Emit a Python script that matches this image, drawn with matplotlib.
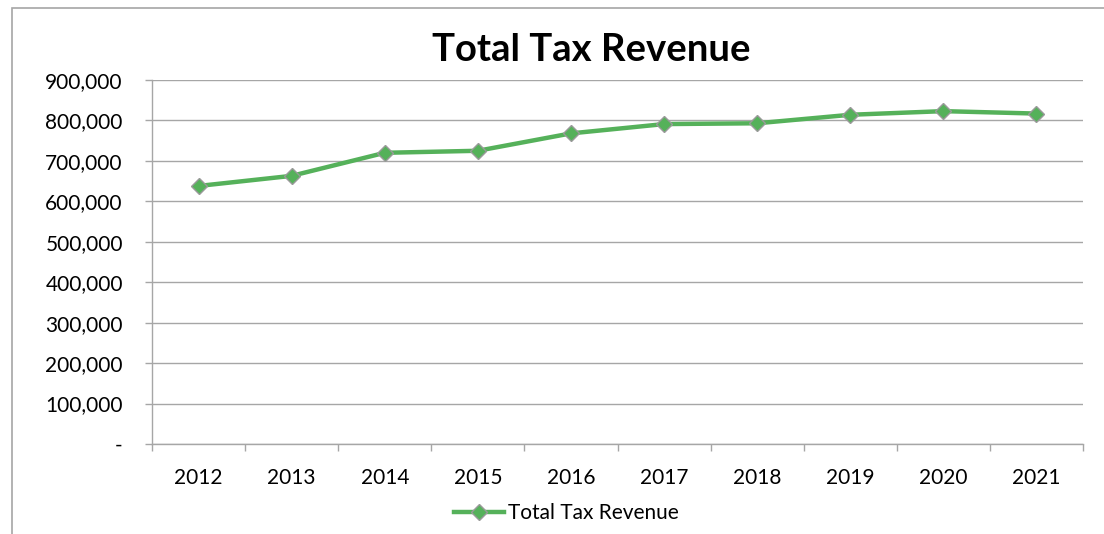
import matplotlib.pyplot as plt
from matplotlib.patches import Rectangle
from matplotlib.ticker import FuncFormatter, FixedLocator

# data
years = ['2012', '2013', '2014', '2015', '2016', '2017', '2018', '2019', '2020', '2021']
revenue = [638000, 663000, 720000, 725000, 768000, 791000, 793000, 814000, 823000, 817000]
y_ticks = [0, 100000, 200000, 300000, 400000, 500000, 600000, 700000, 800000, 900000]

plt.rcParams['font.family'] = ['Lato', 'DejaVu Sans']
green = '#55B15A'
grid_gray = '#A6A6A6'

fig = plt.figure(figsize=(11.04, 5.34), dpi=100)
ax = fig.add_axes([152/1104, 1-444/534, (1083-152)/1104, (444-80)/534])

x = list(range(len(years)))
ax.plot(x, revenue, color=green, lw=3.2, marker='D', markersize=8.5,
        markerfacecolor=green, markeredgecolor='#9A9A9A', markeredgewidth=1,
        label='Total Tax Revenue', zorder=3)

ax.set_xlim(-0.5, len(years) - 0.5)
ax.set_ylim(0, 900000)

# y axis
ax.set_yticks(y_ticks)
ax.yaxis.set_major_formatter(FuncFormatter(lambda v, p: '-' if v == 0 else f'{v:,.0f}'))
ax.tick_params(axis='y', length=5, width=1, color=grid_gray, pad=16, labelsize=15, labelcolor='black')
ax.grid(axis='y', color=grid_gray, lw=1)
ax.set_axisbelow(True)

# x axis: ticks between categories, labels at centres
ax.xaxis.set_major_locator(FixedLocator([i - 0.5 for i in range(len(years) + 1)]))
ax.xaxis.set_minor_locator(FixedLocator(x))
ax.set_xticklabels([], minor=False)
ax.set_xticklabels(years, minor=True)
ax.tick_params(axis='x', which='major', length=5, width=1, color=grid_gray)
ax.tick_params(axis='x', which='minor', length=0, pad=17, labelsize=15, labelcolor='black')

for s in ['top', 'right']:
    ax.spines[s].set_visible(False)
for s in ['left', 'bottom']:
    ax.spines[s].set_color(grid_gray)
    ax.spines[s].set_linewidth(1)

fig.text(591/1104, 1-50/534, 'Total Tax Revenue', ha='center', va='center',
         fontsize=27.5, fontweight='bold')

fig.legend(loc='center', bbox_to_anchor=(566/1104, 1-513/534), frameon=False,
           fontsize=15, handlelength=2.4, handletextpad=0.2)

# chart border (cropped screenshot)
fig.patches.append(Rectangle((12/1104, -0.1), 1.2, 1-8/534+0.1, transform=fig.transFigure,
                             fill=False, edgecolor='#A6A6A6', lw=1.2))

fig.savefig('out.png', dpi=100)
